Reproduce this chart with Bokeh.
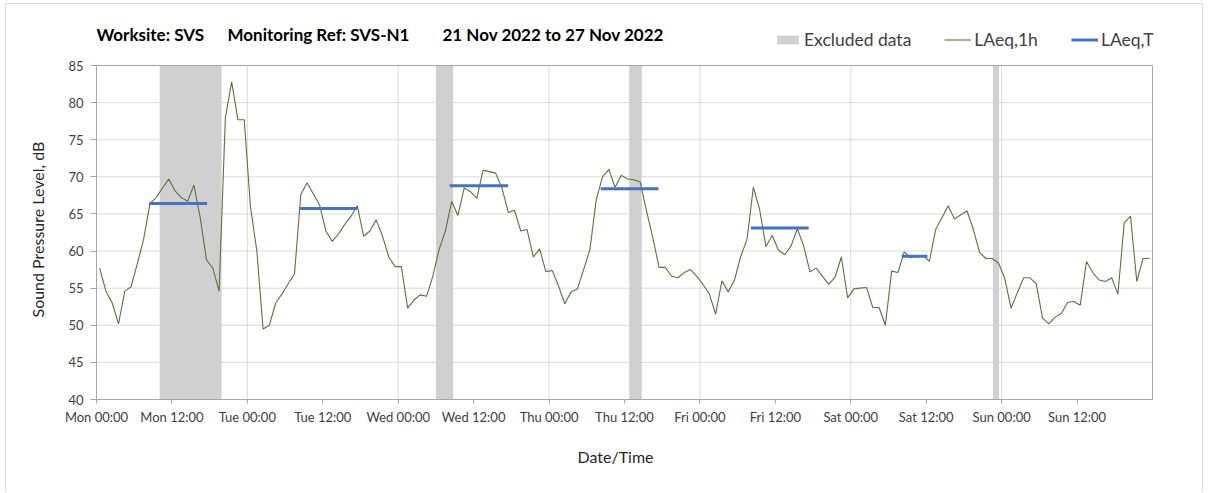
from bokeh.plotting import figure
from bokeh.models import FixedTicker, Label, Legend, LegendItem, Range1d, Title
from bokeh.embed import file_html
from bokeh.resources import INLINE

# ---------------- data ----------------
day_labels = ["Mon", "Tue", "Wed", "Thu", "Fri", "Sat", "Sun"]
tick_labels = [f"{d} {t}" for d in day_labels for t in ("00:00", "12:00")]

# hourly LAeq,1h values (dB), Mon 00:00 .. Sun 23:00, plotted at mid-hour
laeq_1h = [
    57.7, 54.6, 53.0, 50.2, 54.6, 55.2, 58.3, 61.6, 66.4, 67.2, 68.5, 69.7,
    68.1, 67.2, 66.7, 68.9, 64.5, 58.8, 57.7, 54.6, 77.9, 82.8, 77.7, 77.7,
    65.9, 60.1, 49.5, 50.0, 53.0, 54.2, 55.6, 56.9, 67.6, 69.2, 67.7, 66.2,
    62.7, 61.3, 62.3, 63.6, 64.7, 66.1, 62.0, 62.7, 64.2, 62.0, 59.2, 57.9,
    57.9, 52.3, 53.4, 54.1, 53.9, 56.6, 60.2, 62.7, 66.7, 64.8, 68.5, 68.0,
    67.1, 70.9, 70.7, 70.5, 68.5, 65.2, 65.5, 62.7, 62.9, 59.2, 60.3, 57.2,
    57.4, 55.3, 52.9, 54.5, 54.9, 57.5, 60.2, 66.9, 70.0, 71.0, 68.6, 70.2,
    69.7, 69.6, 69.3, 65.4, 61.8, 57.8, 57.8, 56.6, 56.4, 57.1, 57.5, 56.6,
    55.5, 54.2, 51.5, 56.0, 54.5, 56.1, 59.3, 61.6, 68.6, 65.6, 60.6, 62.1,
    60.1, 59.5, 60.7, 63.0, 60.7, 57.2, 57.7, 56.6, 55.5, 56.5, 59.2, 53.7,
    54.9, 55.0, 55.1, 52.4, 52.4, 50.0, 57.3, 57.1, 59.9, 59.1, 59.3, 59.4,
    58.6, 62.9, 64.5, 66.1, 64.3, 64.9, 65.4, 62.9, 59.8, 59.0, 59.0, 58.4,
    56.3, 52.3, 54.4, 56.4, 56.4, 55.6, 51.0, 50.2, 51.1, 51.6, 53.1, 53.2,
    52.7, 58.6, 57.1, 56.1, 55.9, 56.4, 54.2, 63.8, 64.7, 55.9, 59.0, 59.0,
]
hour_of_week = [i + 0.5 for i in range(len(laeq_1h))]

# LAeq,T daytime periods (hours from Mon 00:00) and levels
laeqT_start = [8.4, 32.4, 56.2, 80.2, 104.1, 128.1]
laeqT_end = [17.6, 41.5, 65.5, 89.4, 113.3, 132.2]
laeqT_level = [66.4, 65.75, 68.8, 68.4, 63.1, 59.3]

# excluded data periods (hours from Mon 00:00)
excl_start = [10.05, 54.0, 84.75, 142.6]
excl_end = [19.9, 56.75, 86.75, 143.6]

title_parts = ["Worksite: SVS", "Monitoring Ref: SVS-N1", "21 Nov 2022 to 27 Nov 2022"]
x_title = "Date/Time"
y_title = "Sound Pressure Level, dB"

Y_MIN, Y_MAX = 40, 85
X_MAX = 168
DAY_LINES = [24 * i for i in range(1, 7)]
DB_LINES = list(range(Y_MIN + 5, Y_MAX, 5))

# layout (pixels)
PLOT_W = 1056         # width of the Mon..Mon area
PLOT_H = 334          # height of the 40..85 dB area
TOP_PAD = 50          # extra frame space above 85 dB used for title/legend
RIGHT_PAD = 12        # extra frame space right of the plot area (legend overhang)
Y_TOP = Y_MAX + (Y_MAX - Y_MIN) * TOP_PAD / PLOT_H
X_END = X_MAX + X_MAX * RIGHT_PAD / PLOT_W

FONT = "Lato"
TXT = "#404040"
GRID = "#d9d9d9"
FRAME = "#a6a6a6"

p = figure(width=1198, height=488, output_backend="svg", toolbar_location=None,
           x_range=Range1d(0, X_END), y_range=Range1d(Y_MIN, Y_TOP),
           min_border_left=90, min_border_right=52 - RIGHT_PAD, min_border_top=11,
           min_border_bottom=93)
p.styles = {"margin-left": "5px", "margin-top": "3px",
            "border-left": "1px solid #d9d9d9", "border-top": "1px solid #d9d9d9",
            "border-right": "1px solid #d9d9d9"}
p.outline_line_color = None
p.background_fill_color = "white"
p.border_fill_color = "white"

# grid lines (limited to the 40..85 dB / Mon..Mon area)
p.xgrid.visible = False
p.ygrid.visible = False
p.segment(x0=[0] * len(DB_LINES), x1=[X_MAX] * len(DB_LINES), y0=DB_LINES,
          y1=DB_LINES, line_color=GRID, line_width=1)
p.segment(x0=DAY_LINES, x1=DAY_LINES, y0=[Y_MIN] * len(DAY_LINES),
          y1=[Y_MAX] * len(DAY_LINES), line_color=GRID, line_width=1)

r_excl = p.quad(left=excl_start, right=excl_end,
                bottom=[Y_MIN] * len(excl_start), top=[Y_MAX] * len(excl_start),
                fill_color="#d0d0d0", line_color=None)
r_line = p.line(hour_of_week, laeq_1h, line_color="#56753a", line_width=1.1)
r_T = p.segment(x0=laeqT_start, x1=laeqT_end, y0=laeqT_level, y1=laeqT_level,
                line_color="#4472C4", line_width=3)

# plot-area border
p.quad(left=[0], right=[X_MAX], bottom=[Y_MIN], top=[Y_MAX],
       fill_color=None, line_color=FRAME, line_width=1)

# axes
p.xaxis.ticker = FixedTicker(ticks=[12 * i for i in range(len(tick_labels))])
p.xaxis.major_label_overrides = {12 * i: lab for i, lab in enumerate(tick_labels)}
p.xaxis.bounds = (0, X_MAX)
p.yaxis.ticker = FixedTicker(ticks=list(range(Y_MIN, Y_MAX + 1, 5)))
p.yaxis.bounds = (Y_MIN, Y_MAX)
for ax in (p.xaxis, p.yaxis):
    ax.axis_line_color = FRAME
    ax.major_tick_line_color = FRAME
    ax.minor_tick_line_color = None
    ax.major_tick_in = 0
    ax.major_label_text_font = FONT
    ax.major_label_text_font_size = "13px"
    ax.major_label_text_color = TXT
p.xaxis.major_tick_out = 4
p.yaxis.major_tick_out = 6
p.xaxis.major_label_standoff = 5
p.yaxis.major_label_standoff = 7

# axis titles as side-panel titles so they can be positioned like the original
p.add_layout(Title(text=y_title, align="left", offset=82, standoff=37,
                   text_font=FONT, text_font_size="16px", text_font_style="normal",
                   text_color="#262626"), "left")
p.add_layout(Title(text=x_title, align="left", offset=481, standoff=34,
                   text_font=FONT, text_font_size="16px", text_font_style="normal",
                   text_color="#262626"), "below")

# title pieces (screen offsets from the frame's bottom-left)
for txt, xoff in zip(title_parts, [0, 131, 346]):
    p.add_layout(Label(x=xoff, y=PLOT_H + TOP_PAD - 19, x_units="screen", y_units="screen",
                       text=txt, text_font=FONT, text_font_size="17px",
                       text_font_style="bold", text_color="#000000",
                       text_baseline="middle"))

legend = Legend(items=[LegendItem(label="Excluded data", renderers=[r_excl]),
                       LegendItem(label="LAeq,1h", renderers=[r_line]),
                       LegendItem(label="LAeq,T", renderers=[r_T])],
                orientation="horizontal", location=(678, PLOT_H + TOP_PAD - 35),
                label_text_font=FONT, label_text_font_size="17.5px", label_text_color=TXT,
                glyph_width=27, glyph_height=11, label_height=17, label_standoff=3,
                spacing=33, padding=0, margin=0, border_line_color=None,
                background_fill_alpha=0)
p.add_layout(legend)

open("out.html", "w").write(file_html(p, INLINE))
